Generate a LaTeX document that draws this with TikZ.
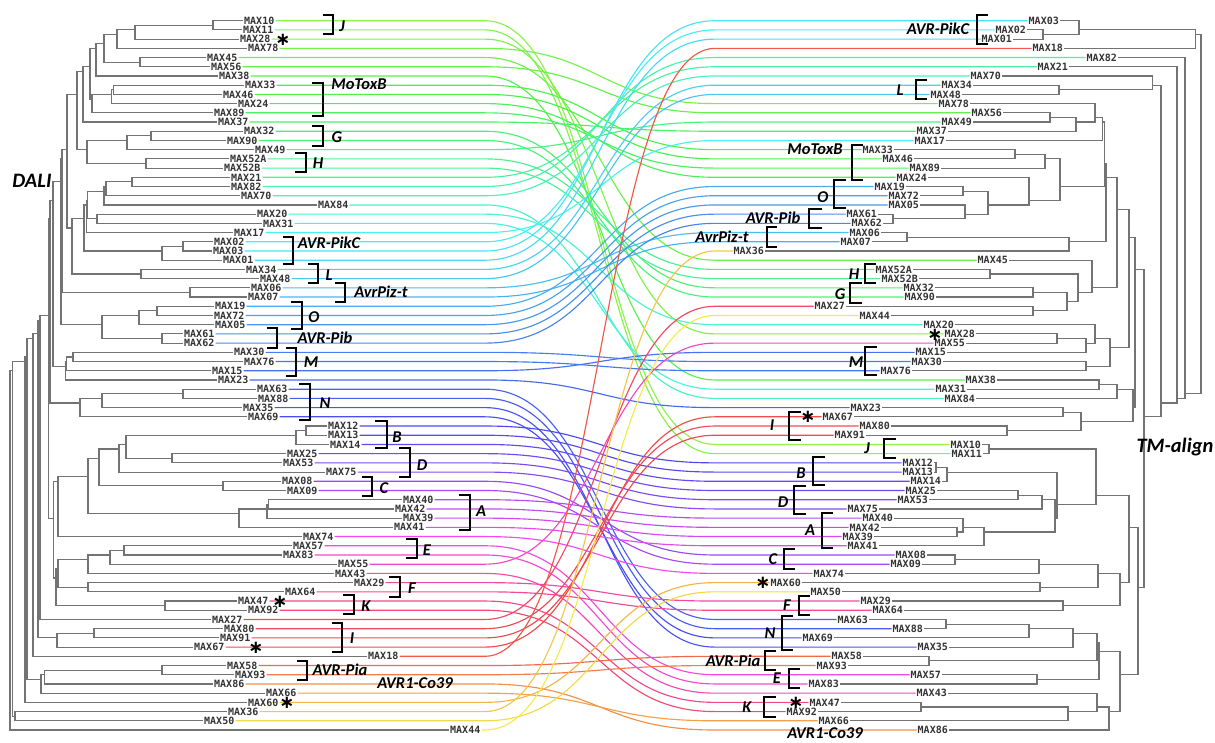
\documentclass[tikz,border=0pt]{standalone}
\usepackage{fontspec}
\newfontfamily\leafmono{DejaVu Sans Mono}
\newfontfamily\grpfont{Carlito}
\newfontfamily\symfont{DejaVu Sans}
\usetikzlibrary{calc}
\tikzset{
 lab/.style={font={\leafmono\bfseries\fontsize{10}{12}\selectfont}, text=black!80, inner xsep=1pt, inner ysep=0pt},
 tree/.style={draw=black!55, line width=1.15pt},
 conn/.style={line width=1.15pt},
 brk/.style={draw=black, line width=2.4pt, line cap=butt, line join=miter},
 grp/.style={font={\grpfont\bfseries\itshape\fontsize{16.5}{18}\selectfont}, inner sep=0pt},
 big/.style={font={\grpfont\bfseries\itshape\fontsize{20.5}{22}\selectfont}, inner sep=0pt},
 ast/.style={font={\symfont\bfseries\fontsize{18}{18}\selectfont}, inner sep=0pt},
}
\newcommand\TreeNode[7]{%
  \path let \p1=(#1#4), \p2=(#1#5) in (#3pt,{(\y1+\y2)/2}) coordinate (#2);
  \draw[tree] (#6) -| (#2) |- (#7);
}
\begin{document}
\begin{tikzpicture}[x=1pt,y=-1pt]
\useasboundingbox (0,0) rectangle (1215,742);
% ---------- left leaves ----------
\foreach \nm/\xx [count=\i] in {MAX10/243,MAX11/242,MAX28/239,MAX78/247,MAX45/206,MAX56/210,MAX38/218,MAX33/244,MAX46/222,MAX24/237,MAX89/213,MAX37/217,MAX32/243,MAX90/226,MAX49/254,MAX52A/229,MAX52B/223,MAX21/230,MAX82/230,MAX70/240,MAX84/317,MAX20/256,MAX31/262,MAX17/233,MAX02/213,MAX03/212,MAX01/222,MAX34/245,MAX48/259,MAX06/250,MAX07/247,MAX19/214,MAX72/213,MAX05/214,MAX61/183,MAX62/183,MAX30/233,MAX76/243,MAX15/211,MAX23/217,MAX63/256,MAX88/257,MAX35/242,MAX69/247,MAX12/327,MAX13/327,MAX14/329,MAX25/286,MAX53/282,MAX75/325,MAX08/281,MAX09/286,MAX40/402,MAX42/394,MAX39/402,MAX41/393,MAX74/302,MAX57/292,MAX83/282,MAX55/337,MAX43/334,MAX29/353,MAX64/284,MAX47/237,MAX92/247,MAX27/211,MAX80/223,MAX91/219,MAX67/193,MAX18/367,MAX58/226,MAX93/234,MAX86/213,MAX66/265,MAX60/247,MAX36/227,MAX50/203,MAX44/449}
{
  \node[lab, anchor=west] (l-\nm) at (\xx,{20.7+9.2117*(\i-1)}) {\nm};
  \coordinate (L\i) at (l-\nm.west);
}
% ---------- right leaves ----------
\foreach \nm/\xx [count=\i] in {MAX03/1060,MAX02/1027,MAX01/1013,MAX18/1064,MAX82/1118,MAX21/1069,MAX70/1002,MAX34/973,MAX48/962,MAX78/970,MAX56/1003,MAX49/973,MAX37/948,MAX17/946,MAX33/894,MAX46/914,MAX89/941,MAX24/928,MAX19/906,MAX72/920,MAX05/920,MAX61/878,MAX62/883,MAX06/881,MAX07/872,MAX36/765,MAX45/1009,MAX52A/913,MAX52B/919,MAX32/935,MAX90/936,MAX27/846,MAX44/891,MAX20/955,MAX28/976,MAX55/966,MAX15/947,MAX30/943,MAX76/912,MAX38/997,MAX31/967,MAX84/976,MAX23/882,MAX67/854,MAX80/891,MAX91/866,MAX10/982,MAX11/983,MAX12/934,MAX13/934,MAX14/942,MAX25/937,MAX53/929,MAX75/879,MAX40/894,MAX42/881,MAX39/874,MAX41/879,MAX08/927,MAX09/922,MAX74/845,MAX60/802,MAX50/842,MAX29/892,MAX64/904,MAX63/869,MAX88/924,MAX69/834,MAX35/949,MAX58/863,MAX93/848,MAX57/942,MAX83/840,MAX43/948,MAX47/841,MAX92/818,MAX66/850,MAX86/949}
{
  \node[lab, anchor=east] (r-\nm) at (\xx,{20.7+9.2117*(\i-1)}) {\nm};
  \coordinate (R\i) at (r-\nm.east);
}
% ---------- connectors ----------
\foreach \nm [count=\i] in {MAX10,MAX11,MAX28,MAX78,MAX45,MAX56,MAX38,MAX33,MAX46,MAX24,MAX89,MAX37,MAX32,MAX90,MAX49,MAX52A,MAX52B,MAX21,MAX82,MAX70,MAX84,MAX20,MAX31,MAX17,MAX02,MAX03,MAX01,MAX34,MAX48,MAX06,MAX07,MAX19,MAX72,MAX05,MAX61,MAX62,MAX30,MAX76,MAX15,MAX23,MAX63,MAX88,MAX35,MAX69,MAX12,MAX13,MAX14,MAX25,MAX53,MAX75,MAX08,MAX09,MAX40,MAX42,MAX39,MAX41,MAX74,MAX57,MAX83,MAX55,MAX43,MAX29,MAX64,MAX47,MAX92,MAX27,MAX80,MAX91,MAX67,MAX18,MAX58,MAX93,MAX86,MAX66,MAX60,MAX36,MAX50,MAX44}
{
  \pgfmathsetmacro\hraw{\i<18.5 ? 95+(\i-1)*3.24 : (\i<25.5 ? 150+(\i-18)*4.57 : (\i<37.5 ? 182+(\i-25)*3.33 : (\i<45.5 ? 222+(\i-37)*2.25 : (\i<51.5 ? 240+(\i-45)*4.67 : (\i<57.5 ? 268+(\i-51)*5.33 : (\i<66.5 ? 300+(\i-57)*5.56 : (\i<70.5 ? 350+(\i-66)*3.75 : 365+(\i-70)*6.6)))))))}
  \pgfmathsetmacro\hue{mod(\hraw,360)}
  \convertcolorspec{Hsb}{\hue,0.7,0.95}{rgb}\lcspec
  \definecolor{lc}{rgb}{\lcspec}
  \draw[conn, draw=lc] let \p1=(l-\nm.east), \p2=(r-\nm.west) in
    (\p1) -- (485pt,\y1) .. controls (600pt,\y1) and (600pt,\y2) .. (715pt,\y2) -- (\p2);
}
% ---------- left tree ----------
\TreeNode{L}{n1}{213}{1}{2}{L1}{L2}
\TreeNode{L}{n2}{135}{1}{3}{n1}{L3}
\TreeNode{L}{n3}{117}{1}{4}{n2}{L4}
\TreeNode{L}{n4}{140}{5}{6}{L5}{L6}
\TreeNode{L}{n5}{104}{1}{6}{n3}{n4}
\TreeNode{L}{n6}{96}{1}{7}{n5}{L7}
\TreeNode{L}{n7}{113.3}{8}{9}{L8}{L9}
\TreeNode{L}{n8}{111.7}{8}{10}{n7}{L10}
\TreeNode{L}{n9}{92}{8}{11}{n8}{L11}
\TreeNode{L}{n10}{90}{1}{11}{n6}{n9}
\TreeNode{L}{n11}{83}{1}{12}{n10}{L12}
\TreeNode{L}{n12}{151}{13}{14}{L13}{L14}
\TreeNode{L}{n13}{127}{13}{15}{n12}{L15}
\TreeNode{L}{n14}{146}{16}{17}{L16}{L17}
\TreeNode{L}{n15}{87}{13}{17}{n13}{n14}
\TreeNode{L}{n16}{77}{1}{17}{n11}{n15}
\TreeNode{L}{c1}{132}{18}{19}{L18}{L19}
\TreeNode{L}{c2}{106}{18}{20}{c1}{L20}
\TreeNode{L}{c3}{104}{18}{21}{c2}{L21}
\TreeNode{L}{c4}{97}{22}{23}{L22}{L23}
\TreeNode{L}{c5}{87.5}{18}{23}{c3}{c4}
\TreeNode{L}{c6}{86.5}{18}{24}{c5}{L24}
\TreeNode{L}{c7}{183}{25}{26}{L25}{L26}
\TreeNode{L}{c8}{162}{25}{27}{c7}{L27}
\TreeNode{L}{c9}{84}{18}{27}{c6}{c8}
\TreeNode{L}{c10}{141}{28}{29}{L28}{L29}
\TreeNode{L}{c11}{72}{18}{29}{c9}{c10}
\TreeNode{L}{nA}{67}{1}{29}{n16}{c11}
\TreeNode{L}{c12}{190}{30}{31}{L30}{L31}
\TreeNode{L}{nB}{62}{1}{31}{nA}{c12}
\TreeNode{L}{o1}{157}{32}{33}{L32}{L33}
\TreeNode{L}{o2}{139}{32}{34}{o1}{L34}
\TreeNode{L}{p1}{162}{35}{36}{L35}{L36}
\TreeNode{L}{o3}{102}{32}{36}{o2}{p1}
\TreeNode{L}{nC}{61}{1}{36}{nB}{o3}
\TreeNode{L}{m1}{73}{37}{38}{L37}{L38}
\TreeNode{L}{m2}{66.5}{37}{39}{m1}{L39}
\TreeNode{L}{m3}{65.5}{37}{40}{m2}{L40}
\TreeNode{L}{nD}{53}{1}{40}{nC}{m3}
\TreeNode{L}{q1}{183}{41}{42}{L41}{L42}
\TreeNode{L}{q2}{102}{41}{43}{q1}{L43}
\TreeNode{L}{q3}{80}{41}{44}{q2}{L44}
\TreeNode{L}{nE}{50}{1}{44}{nD}{q3}
\TreeNode{L}{b1}{306}{45}{46}{L45}{L46}
\TreeNode{L}{b2}{296}{45}{47}{b1}{L47}
\TreeNode{L}{d1}{172}{48}{49}{L48}{L49}
\TreeNode{L}{r3}{126}{45}{49}{b2}{d1}
\TreeNode{L}{r4}{119}{45}{50}{r3}{L50}
\TreeNode{L}{cc}{223}{51}{52}{L51}{L52}
\TreeNode{L}{r5}{99}{45}{52}{r4}{cc}
\TreeNode{L}{a1}{268.5}{53}{54}{L53}{L54}
\TreeNode{L}{a2}{267}{53}{55}{a1}{L55}
\TreeNode{L}{a3}{239}{53}{56}{a2}{L56}
\TreeNode{L}{r6}{88}{45}{56}{r5}{a3}
\TreeNode{L}{nF}{58}{45}{57}{r6}{L57}
\TreeNode{L}{s1}{124}{58}{59}{L58}{L59}
\TreeNode{L}{s2}{110}{58}{60}{s1}{L60}
\TreeNode{L}{s3}{88}{58}{61}{s2}{L61}
\TreeNode{L}{f1}{88}{62}{63}{L62}{L63}
\TreeNode{L}{s4}{58}{58}{63}{s3}{f1}
\TreeNode{L}{k1}{165}{64}{65}{L64}{L65}
\TreeNode{L}{s5}{56}{58}{65}{s4}{k1}
\TreeNode{L}{s6}{53.5}{45}{65}{nF}{s5}
\TreeNode{L}{nG}{48.5}{1}{65}{nE}{s6}
\TreeNode{L}{nH}{40}{1}{66}{nG}{L66}
\TreeNode{L}{i1}{94}{67}{68}{L67}{L68}
\TreeNode{L}{i2}{57}{67}{69}{i1}{L69}
\TreeNode{L}{nI}{38}{1}{69}{nH}{i2}
\TreeNode{L}{nJ}{33}{1}{70}{nI}{L70}
\TreeNode{L}{v1}{162}{71}{72}{L71}{L72}
\TreeNode{L}{v2}{44.5}{71}{73}{v1}{L73}
\TreeNode{L}{v3}{41}{71}{74}{v2}{L74}
\TreeNode{L}{nK}{27}{1}{74}{nJ}{v3}
\TreeNode{L}{nL}{25}{1}{75}{nK}{L75}
\TreeNode{L}{z1}{15}{76}{77}{L76}{L77}
\TreeNode{L}{nM}{12.5}{1}{77}{nL}{z1}
\TreeNode{L}{nR}{10}{1}{78}{nM}{L78}
% ---------- right tree ----------
\TreeNode{R}{t1}{1043}{2}{3}{R2}{R3}
\TreeNode{R}{t2}{1079}{1}{3}{R1}{t1}
\TreeNode{R}{t3}{1195.5}{1}{4}{t2}{R4}
\TreeNode{R}{u1}{1059}{8}{9}{R8}{R9}
\TreeNode{R}{u2}{1152.5}{7}{9}{R7}{u1}
\TreeNode{R}{w1}{1050}{11}{12}{R11}{R12}
\TreeNode{R}{w2}{1076}{11}{13}{w1}{R13}
\TreeNode{R}{w3}{1095}{10}{13}{R10}{w2}
\TreeNode{R}{w4}{1102.5}{10}{14}{w3}{R14}
\TreeNode{R}{x1}{1015}{15}{16}{R15}{R16}
\TreeNode{R}{x2}{1045}{15}{17}{x1}{R17}
\TreeNode{R}{oo1}{963}{19}{20}{R19}{R20}
\TreeNode{R}{pp1}{893}{22}{23}{R22}{R23}
\TreeNode{R}{oo2}{965}{21}{23}{R21}{pp1}
\TreeNode{R}{oo3}{988}{19}{23}{oo1}{oo2}
\TreeNode{R}{x3}{1029}{18}{23}{R18}{oo3}
\TreeNode{R}{x4}{1060}{15}{23}{x2}{x3}
\TreeNode{R}{w5}{1104.5}{10}{23}{w4}{x4}
\TreeNode{R}{y1}{907}{24}{25}{R24}{R25}
\TreeNode{R}{y2}{1069}{24}{26}{y1}{R26}
\TreeNode{R}{w6}{1106}{10}{26}{w5}{y2}
\TreeNode{R}{h1}{990}{28}{29}{R28}{R29}
\TreeNode{R}{g1}{1033}{30}{31}{R30}{R31}
\TreeNode{R}{g2}{1033}{32}{33}{R32}{R33}
\TreeNode{R}{g3}{1067}{30}{33}{g1}{g2}
\TreeNode{R}{h2}{1078}{28}{33}{h1}{g3}
\TreeNode{R}{h3}{1092}{27}{33}{R27}{h2}
\TreeNode{R}{w7}{1117}{10}{33}{w6}{h3}
\TreeNode{R}{mm1}{1057}{35}{36}{R35}{R36}
\TreeNode{R}{mm2}{1086}{35}{37}{mm1}{R37}
\TreeNode{R}{mm3}{1095}{34}{37}{R34}{mm2}
\TreeNode{R}{mm4}{1086}{38}{39}{R38}{R39}
\TreeNode{R}{mm5}{1110}{34}{39}{mm3}{mm4}
\TreeNode{R}{w8}{1129}{10}{39}{w7}{mm5}
\TreeNode{R}{e1}{1099}{40}{41}{R40}{R41}
\TreeNode{R}{e2}{1117}{40}{42}{e1}{R42}
\TreeNode{R}{ii1}{1063}{43}{44}{R43}{R44}
\TreeNode{R}{ii2}{1007}{45}{46}{R45}{R46}
\TreeNode{R}{ii3}{1081}{43}{46}{ii1}{ii2}
\TreeNode{R}{e3}{1133}{40}{46}{e2}{ii3}
\TreeNode{R}{w9}{1135}{10}{46}{w8}{e3}
\TreeNode{R}{j1}{989}{47}{48}{R47}{R48}
\TreeNode{R}{bb1}{936}{49}{50}{R49}{R50}
\TreeNode{R}{bb2}{947}{49}{51}{bb1}{R51}
\TreeNode{R}{dd1}{1018}{52}{53}{R52}{R53}
\TreeNode{R}{dd2}{1042}{52}{54}{dd1}{R54}
\TreeNode{R}{aa1}{957}{56}{57}{R56}{R57}
\TreeNode{R}{aa2}{963}{55}{57}{R55}{aa1}
\TreeNode{R}{aa3}{984}{55}{58}{aa2}{R58}
\TreeNode{R}{da}{1055}{52}{58}{dd2}{aa3}
\TreeNode{R}{bda}{1057}{49}{58}{bb2}{da}
\TreeNode{R}{jb}{1096}{47}{58}{j1}{bda}
\TreeNode{R}{cc1}{955}{59}{60}{R59}{R60}
\TreeNode{R}{cc2}{1039}{59}{61}{cc1}{R61}
\TreeNode{R}{qq1}{1040}{62}{63}{R62}{R63}
\TreeNode{R}{cc3}{1098}{59}{63}{cc2}{qq1}
\TreeNode{R}{ff1}{1063}{64}{65}{R64}{R65}
\TreeNode{R}{cc4}{1120}{59}{65}{cc3}{ff1}
\TreeNode{R}{X1}{1129}{47}{65}{jb}{cc4}
\TreeNode{R}{nn1}{946}{66}{67}{R66}{R67}
\TreeNode{R}{nn2}{1029}{66}{68}{nn1}{R68}
\TreeNode{R}{nn3}{1073}{66}{69}{nn2}{R69}
\TreeNode{R}{pia}{929}{70}{71}{R70}{R71}
\TreeNode{R}{np}{1097}{66}{71}{nn3}{pia}
\TreeNode{R}{ee1}{1037}{72}{73}{R72}{R73}
\TreeNode{R}{npe}{1099}{66}{73}{np}{ee1}
\TreeNode{R}{kk1}{921}{75}{76}{R75}{R76}
\TreeNode{R}{kk2}{1068}{75}{77}{kk1}{R77}
\TreeNode{R}{kk3}{1097}{74}{77}{R74}{kk2}
\TreeNode{R}{kk4}{1109}{74}{78}{kk3}{R78}
\TreeNode{R}{low}{1120}{66}{78}{npe}{kk4}
\TreeNode{R}{X2}{1138}{47}{78}{X1}{low}
\TreeNode{R}{X3}{1144}{10}{78}{w9}{X2}
\TreeNode{R}{rr1}{1161}{7}{78}{u2}{X3}
\TreeNode{R}{rr2}{1177}{6}{78}{R6}{rr1}
\TreeNode{R}{rr3}{1185}{5}{78}{R5}{rr2}
\TreeNode{R}{rt}{1201}{1}{78}{t3}{rr3}
% ---------- left brackets ----------
\foreach \xv/\xt/\ya/\yb in {333/323/15/34, 323/312/83/116, 323/312/126/146, 306/295/153/172, 293/283/237/264, 318/308/264/283, 345/335/283/302, 302/291/302/329, 277/267/328/348, 296/286/348/376, 310/299/384/420, 387/375/421/448, 410/399/448/477, 372/362/477/496, 470/459/495/530, 417/406/539/558, 400/389/577/597, 354/343/595/614, 342/332/623/652, 307/297/661/680}
  \draw[brk] (\xt,\ya) -- (\xv,\ya) -- (\xv,\yb) -- (\xt,\yb);
% ---------- right brackets ----------
\foreach \xv/\xt/\ya/\yb in {977/988/15/44, 916/927/80/99, 852/863/145/180, 834/846/180/208, 809/822/209/228, 767/777/227/247, 865/876/264/283, 850/862/283/303, 865/877/347/375, 789/801/412/440, 884/896/439/458, 813/825/457/485, 794/806/486/514, 822/833/513/548, 784/795/549/569, 799/810/596/615, 782/793/616/650, 765/776/651/670, 789/800/669/688, 764/776/697/717}
  \draw[brk] (\xt,\ya) -- (\xv,\ya) -- (\xv,\yb) -- (\xt,\yb);
% ---------- group labels, left ----------
\node[grp] (gl-J) at (342,26) {J};
\node[grp] (gl-MoToxB) at (359,84) {MoToxB};
\node[grp] (gl-G) at (337,137) {G};
\node[grp] (gl-H) at (318,163) {H};
\node[grp] (gl-PikC) at (329,243) {AVR-PikC};
\node[grp] (gl-L) at (329,275) {L};
\node[grp] (gl-Piz) at (381,292) {AvrPiz-t};
\node[grp] (gl-O) at (314,317) {O};
\node[grp] (gl-Pib) at (325,338) {AVR-Pib};
\node[grp] (gl-M) at (311,362) {M};
\node[grp] (gl-N) at (325,403) {N};
\node[grp] (gl-B) at (397,437) {B};
\node[grp] (gl-D) at (422,465) {D};
\node[grp] (gl-C) at (384,488) {C};
\node[grp] (gl-A) at (481,511) {A};
\node[grp] (gl-E) at (427,550) {E};
\node[grp] (gl-F) at (412,588) {F};
\node[grp] (gl-K) at (366,606) {K};
\node[grp] (gl-I) at (352,638) {I};
\node[grp] (gl-Pia) at (340,670) {AVR-Pia};
\node[grp] (gl-Co39) at (415,683) {AVR1-Co39};
% ---------- group labels, right ----------
\node[grp] (gr-PikC) at (938,29) {AVR-PikC};
\node[grp] (gr-L) at (900,90) {L};
\node[grp] (gr-MoToxB) at (815,149) {MoToxB};
\node[grp] (gr-O) at (823,197) {O};
\node[grp] (gr-Pib) at (773,218) {AVR-Pib};
\node[grp] (gr-Piz) at (722,237) {AvrPiz-t};
\node[grp] (gr-H) at (854,274) {H};
\node[grp] (gr-G) at (840,294) {G};
\node[grp] (gr-M) at (856,362) {M};
\node[grp] (gr-I) at (772,425) {I};
\node[grp] (gr-J) at (867,448) {J};
\node[grp] (gr-B) at (801,473) {B};
\node[grp] (gr-D) at (783,502) {D};
\node[grp] (gr-A) at (810,530) {A};
\node[grp] (gr-C) at (773,559) {C};
\node[grp] (gr-F) at (787,605) {F};
\node[grp] (gr-N) at (770,633) {N};
\node[grp] (gr-Pia) at (733,661) {AVR-Pia};
\node[grp] (gr-E) at (777,678) {E};
\node[grp] (gr-K) at (747,707) {K};
\node[grp] (gr-Co39) at (825,733) {AVR1-Co39};
% ---------- asterisks ----------
\node[ast] (s-l28) at (283,40) {∗};
\node[ast] (s-l47) at (280,602) {∗};
\node[ast] (s-l67) at (256,648) {∗};
\node[ast] (s-l60) at (287,703) {∗};
\node[ast] (s-r28) at (935,335) {∗};
\node[ast] (s-r67) at (808,417) {∗};
\node[ast] (s-r60) at (763,583) {∗};
\node[ast] (s-r47) at (796,703) {∗};
% ---------- titles ----------
\node[big] (dali) at (32,181) {DALI};
\node[big] (tmalign) at (1175,447) {TM-align};
\end{tikzpicture}
\end{document}
